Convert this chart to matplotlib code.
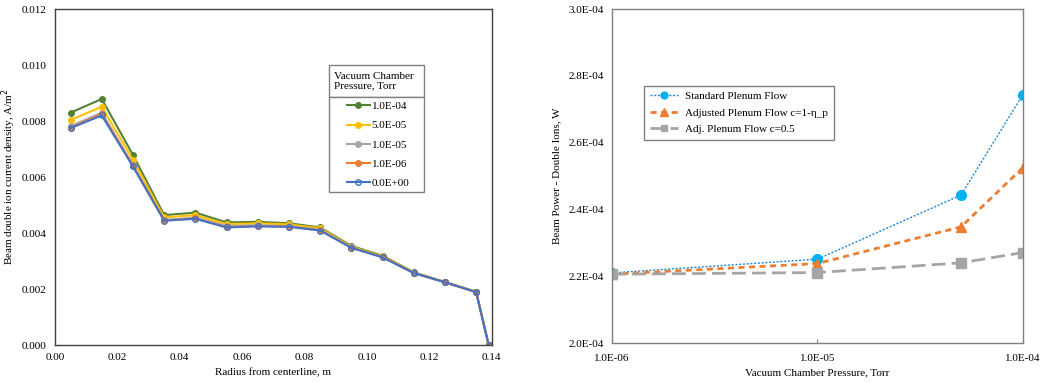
import matplotlib
matplotlib.use('Agg')
import matplotlib.pyplot as plt
from matplotlib.patches import Rectangle
import numpy as np

plt.rcParams['font.family'] = ['Liberation Serif', 'DejaVu Serif']
plt.rcParams['font.size'] = 8

# radial profiles of double ion current density
radius = [0.005, 0.015, 0.025, 0.035, 0.045, 0.055, 0.065, 0.075,
          0.085, 0.095, 0.105, 0.115, 0.125, 0.135, 0.139]
j_1e4 = [0.00830, 0.00879, 0.00679, 0.00464, 0.00473, 0.00438, 0.00440, 0.00435,
         0.00420, 0.00354, 0.00319, 0.00260, 0.00225, 0.00190, 0.0]
j_5e5 = [0.00804, 0.00851, 0.00661, 0.00456, 0.00464, 0.00432, 0.00435, 0.00431,
         0.00417, 0.00351, 0.00317, 0.00259, 0.00225, 0.00190, 0.0]
j_1e5 = [0.00782, 0.00830, 0.00643, 0.00447, 0.00455, 0.00425, 0.00428, 0.00425,
         0.00412, 0.00349, 0.00315, 0.00258, 0.00224, 0.00189, 0.0]
j_1e6 = [0.00777, 0.00825, 0.00640, 0.00445, 0.00452, 0.00421, 0.00425, 0.00423,
         0.00410, 0.00348, 0.00314, 0.00257, 0.00224, 0.00189, 0.0]
j_0 = [0.00775, 0.00820, 0.00638, 0.00444, 0.00451, 0.00420, 0.00424, 0.00422,
       0.00409, 0.00347, 0.00313, 0.00257, 0.00224, 0.00189, 0.0]
profile_labels = ['1.0E-04', '5.0E-05', '1.0E-05', '1.0E-06', '0.0E+00']

# beam power of double ions vs chamber pressure
pressure = [1e-6, 1e-5, 5e-5, 1e-4]
p_standard = [2.210e-4, 2.251e-4, 2.443e-4, 2.744e-4]
p_adjusted = [2.206e-4, 2.238e-4, 2.348e-4, 2.525e-4]
p_half = [2.206e-4, 2.211e-4, 2.240e-4, 2.271e-4]
power_labels = ['Standard Plenum Flow', 'Adjusted Plenum Flow c=1-η_p', 'Adj. Plenum Flow c=0.5']

fig = plt.figure(figsize=(10.45, 3.83), dpi=100)
ax1 = fig.add_axes([0.0526, 0.0992, 0.418, 0.877])
ax2 = fig.add_axes([0.5856, 0.1044, 0.3933, 0.872])

# --- left: current density profiles ---
colors = ['#548235', '#FFC000', '#A5A5A5', '#ED7D31', '#4472C4']
series = [j_1e4, j_5e5, j_1e5, j_1e6, j_0]
handles = []
for vals, c, lab in zip(series, colors, profile_labels):
    face = 'none' if lab == '0.0E+00' else c
    h, = ax1.plot(radius, vals, color=c, lw=1.5, marker='o', ms=4,
                  mfc=face, mec=c, mew=1, label=lab)
    handles.append(h)

ax1.set_xlim(0, 0.14)
ax1.set_ylim(0, 0.012)
ax1.set_xticks(np.arange(0, 0.141, 0.02))
ax1.set_yticks(np.arange(0, 0.0121, 0.002))
ax1.xaxis.set_major_formatter(plt.FormatStrFormatter('%.2f'))
ax1.yaxis.set_major_formatter(plt.FormatStrFormatter('%.3f'))
ax1.tick_params(length=0, pad=6)
for s in ax1.spines.values():
    s.set_color('#404040')
    s.set_linewidth(1.0)
ax1.set_xlabel('Radius from centerline, m', labelpad=4)
ax1.set_ylabel('Beam double ion current density, A/m$^2$', labelpad=3)

# legend boxes: title on top, entries below
lx0, lw = 0.627, 0.217
ax1.add_patch(Rectangle((lx0, 0.738), lw, 0.095, transform=ax1.transAxes,
                        fill=False, ec='#808080', lw=1, clip_on=False, zorder=5))
ax1.add_patch(Rectangle((lx0, 0.455), lw, 0.283, transform=ax1.transAxes,
                        fill=True, fc='white', ec='#808080', lw=1, clip_on=False, zorder=5))
ax1.text(lx0 + 0.012, 0.786, 'Vacuum Chamber\nPressure, Torr', transform=ax1.transAxes,
         ha='left', va='center', fontsize=8, linespacing=1.1, zorder=6)
leg1 = ax1.legend(handles=handles, loc='center', bbox_to_anchor=(lx0 + lw / 2 + 0.005, 0.596),
                  frameon=False, handlelength=2.0, handletextpad=0.2,
                  labelspacing=0.85, fontsize=8)
leg1.set_zorder(7)

# --- right: beam power vs pressure ---
ax2.plot(pressure, p_standard, color='#1E88D8', lw=1.0, ls=(0, (1.5, 1.2)),
         marker='o', ms=7, mfc='#00B0F0', mec='#00B0F0', label=power_labels[0])
ax2.plot(pressure, p_adjusted, color='#ED7D31', lw=2.0, ls=(0, (2.2, 1.6)),
         marker='^', ms=7.5, mfc='#ED7D31', mec='#ED7D31', label=power_labels[1])
ax2.plot(pressure, p_half, color='#A5A5A5', lw=2.0, ls=(0, (5, 2.2)),
         marker='s', ms=7, mfc='#A5A5A5', mec='#A5A5A5', label=power_labels[2])

ax2.set_xscale('log')
ax2.set_xlim(1e-6, 1e-4)
ax2.set_ylim(2.0e-4, 3.0e-4)
ax2.set_xticks([1e-6, 1e-5, 1e-4])
ax2.set_xticklabels(['1.0E-06', '1.0E-05', '1.0E-04'])
ax2.xaxis.set_minor_locator(plt.NullLocator())
ax2.set_yticks(np.arange(2.0e-4, 3.01e-4, 0.2e-4))
ax2.set_yticklabels(['2.0E-04', '2.2E-04', '2.4E-04', '2.6E-04', '2.8E-04', '3.0E-04'])
ax2.tick_params(axis='y', length=0, pad=6)
ax2.tick_params(axis='x', direction='in', length=3, color='#808080', pad=8)
for s in ax2.spines.values():
    s.set_color('#808080')
    s.set_linewidth(1.0)
ax2.set_xlabel('Vacuum Chamber Pressure, Torr', labelpad=4)
ax2.set_ylabel('Beam Power - Double Ions, W', labelpad=5)
leg2 = ax2.legend(loc='upper left', bbox_to_anchor=(0.078, 0.77), fancybox=False,
                  edgecolor='#808080', framealpha=1, handlelength=2.6,
                  handletextpad=0.6, borderpad=0.5, labelspacing=0.6, fontsize=8,
                  markerscale=0.7, borderaxespad=0)
leg2.get_frame().set_linewidth(1.0)

fig.savefig('out.png', dpi=100)
